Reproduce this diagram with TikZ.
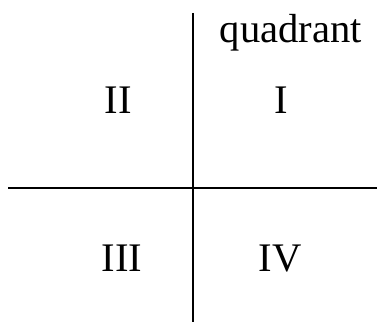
\documentclass[tikz,border=0pt]{standalone}
\usepackage{fontspec}
\setmainfont{Liberation Serif}
\usetikzlibrary{positioning}

\begin{document}
\begin{tikzpicture}[x=1pt,y=1pt]
    \useasboundingbox (0,0) rectangle (377,322);
    \tikzset{quad/.style={anchor=base,inner sep=0pt,font=\fontsize{40.6}{44}\selectfont}}
    \coordinate (top) at (192.5,309);\coordinate (bot) at (192.5,0);
    \coordinate (left) at (8,134);\coordinate (right) at (377,134);
    \draw[line width=2pt] (top)--(bot);\draw[line width=2pt] (left)--(right);
    \node[quad] (lbl) at (291,279) {quadrant};
    \node[quad] (q1) at (281.5,209) {I};
    \node[quad] (q2) at (118,209) {II};
    \node[quad] (q3) at (122,51) {III};
    \node[quad] (q4) at (280,51) {IV};
  \end{tikzpicture}
\end{document}
